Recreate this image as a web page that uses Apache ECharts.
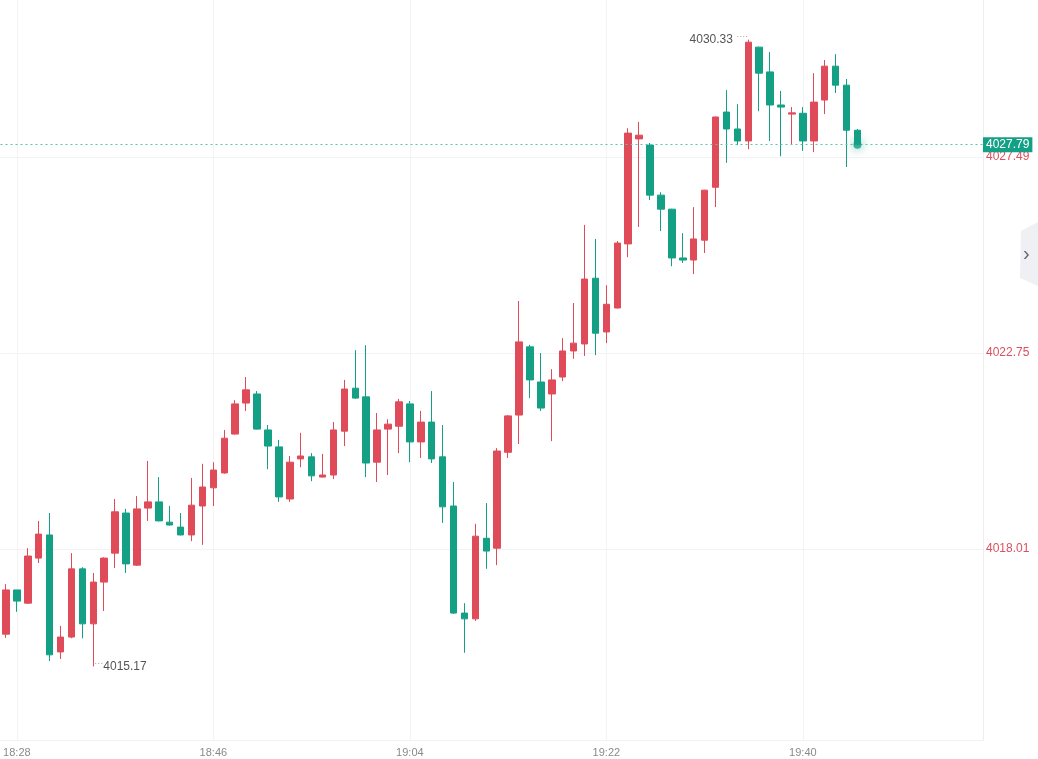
<!DOCTYPE html>
<html>
<head>
<meta charset="utf-8">
<script src="https://cdn.jsdelivr.net/npm/echarts@6/dist/echarts.min.js"></script>
<style>
  html, body { margin: 0; padding: 0; background: #fff; }
  #EChart { width: 1038px; height: 759px; }
</style>
</head>
<body>
<div id="EChart"></div>
<script>
// minute bars, 18:27 -> 19:45, axis runs on to 19:56
var times = [
  '18:27','18:28','18:29','18:30','18:31','18:32','18:33','18:34','18:35','18:36',
  '18:37','18:38','18:39','18:40','18:41','18:42','18:43','18:44','18:45','18:46',
  '18:47','18:48','18:49','18:50','18:51','18:52','18:53','18:54','18:55','18:56',
  '18:57','18:58','18:59','19:00','19:01','19:02','19:03','19:04','19:05','19:06',
  '19:07','19:08','19:09','19:10','19:11','19:12','19:13','19:14','19:15','19:16',
  '19:17','19:18','19:19','19:20','19:21','19:22','19:23','19:24','19:25','19:26',
  '19:27','19:28','19:29','19:30','19:31','19:32','19:33','19:34','19:35','19:36',
  '19:37','19:38','19:39','19:40','19:41','19:42','19:43','19:44','19:45','19:46',
  '19:47','19:48','19:49','19:50','19:51','19:52','19:53','19:54','19:55','19:56'
];

var opens = [
  4015.95,4017.02,4016.70,4017.79,4018.35,4015.52,4015.88,4017.53,4016.20,4017.21,
  4017.91,4018.88,4017.62,4019.00,4019.15,4018.66,4018.54,4018.35,4019.05,4019.49,
  4019.85,4020.79,4021.54,4021.76,4020.89,4020.48,4019.22,4020.19,4020.24,4019.75,
  4019.80,4020.86,4021.90,4021.69,4020.11,4020.91,4020.98,4021.52,4020.60,4021.08,
  4020.24,4019.05,4016.46,4016.32,4018.27,4018.03,4020.35,4021.25,4022.90,4022.05,
  4021.76,4022.17,4022.80,4022.97,4024.56,4023.26,4023.84,4025.39,4027.93,4027.78,
  4026.57,4026.23,4025.05,4025.00,4025.48,4026.76,4028.58,4028.17,4027.88,4030.15,
  4029.55,4028.75,4028.53,4028.55,4027.88,4028.87,4029.69,4029.23,4028.14
];
var closes = [
  4017.02,4016.75,4017.84,4018.37,4015.45,4015.88,4017.53,4016.20,4017.21,4017.79,
  4018.91,4017.65,4018.98,4019.15,4018.69,4018.59,4018.35,4019.07,4019.51,4019.92,
  4020.69,4021.52,4021.86,4020.91,4020.50,4019.27,4020.11,4020.26,4019.78,4019.80,
  4020.89,4021.88,4021.66,4020.09,4020.89,4021.03,4021.57,4020.60,4021.08,4020.19,
  4019.03,4016.46,4016.32,4018.32,4017.96,4020.38,4021.23,4023.02,4022.10,4021.42,
  4022.10,4022.80,4022.99,4024.54,4023.23,4023.93,4025.41,4028.07,4028.02,4026.57,
  4026.23,4025.05,4025.00,4025.51,4026.69,4028.46,4028.17,4027.88,4030.27,4029.52,
  4028.75,4028.70,4028.56,4027.88,4028.82,4029.69,4029.23,4028.14,4027.79
];
var lows = [
  4015.86,4016.49,4016.68,4017.67,4015.30,4015.35,4015.85,4015.85,4015.17,4016.51,
  4017.55,4017.43,4017.60,4018.69,4018.68,4018.58,4018.34,4018.20,4018.11,4019.05,
  4019.83,4020.78,4021.35,4020.90,4019.94,4019.15,4019.15,4019.99,4019.65,4019.74,
  4019.70,4020.50,4021.64,4019.75,4019.63,4019.80,4020.33,4020.11,4020.21,4020.09,
  4018.64,4016.44,4015.50,4016.27,4017.53,4017.62,4020.21,4020.55,4021.66,4021.35,
  4020.62,4022.07,4022.61,4022.68,4022.70,4022.99,4023.83,4025.07,4025.80,4026.45,
  4025.70,4024.85,4024.93,4024.66,4025.17,4026.28,4027.35,4027.78,4027.68,4028.60,
  4027.88,4027.51,4027.78,4027.64,4027.61,4028.53,4029.04,4027.25,4027.77
];
var highs = [
  4017.16,4017.02,4018.03,4018.69,4018.88,4016.15,4017.91,4017.57,4017.43,4017.81,
  4019.22,4018.98,4019.29,4020.14,4019.75,4019.05,4018.88,4019.73,4020.07,4020.11,
  4020.89,4021.61,4022.17,4021.83,4021.01,4020.65,4020.26,4020.82,4020.33,4020.31,
  4021.08,4022.10,4022.82,4022.94,4021.30,4021.15,4021.64,4021.59,4021.35,4021.83,
  4021.01,4019.63,4016.70,4018.62,4019.12,4020.45,4021.25,4024.01,4022.95,4022.75,
  4022.36,4023.11,4023.96,4025.85,4025.51,4024.39,4025.46,4028.19,4028.34,4027.83,
  4026.64,4026.24,4025.65,4026.28,4026.70,4028.47,4029.11,4028.77,4030.33,4030.16,
  4030.03,4029.09,4028.70,4028.70,4029.52,4029.84,4029.98,4029.38,4028.17
];

var priceTicks = [4018.01, 4022.75, 4027.49];
var lastPrice = 4027.79;

var UP = '#e04b5a';
var DOWN = '#14a085';

var kdata = [];
for (var i = 0; i < opens.length; i++) {
  kdata.push([opens[i], closes[i], lows[i], highs[i]]);
}
var hiVal = Math.max.apply(null, highs);
var hiIdx = highs.indexOf(hiVal);
var loVal = Math.min.apply(null, lows);
var loIdx = lows.indexOf(loVal);
var lastIdx = closes.length - 1;

function showTime(idx) { return (idx - 1) % 18 === 0; }

var config = {
  animation: false,
  backgroundColor: '#ffffff',
  grid: { left: 0.5, right: 55, top: 0, bottom: 19 },
  xAxis: {
    type: 'category',
    data: times,
    boundaryGap: true,
    axisLine: { show: true, lineStyle: { color: '#f2f2f2' } },
    axisTick: { show: false, alignWithLabel: true },
    axisLabel: {
      interval: showTime,
      color: '#8a8a8a',
      fontSize: 11,
      margin: 7,
      fontFamily: 'Liberation Sans Narrow, Arial Narrow, sans-serif'
    },
    splitLine: { show: true, interval: showTime, alignWithLabel: true, lineStyle: { color: '#f3f3f3' } }
  },
  yAxis: {
    type: 'value',
    position: 'right',
    scale: true,
    min: 4013.39,
    max: 4031.29,
    axisLine: { show: true, lineStyle: { color: '#eeeeee' } },
    axisTick: { show: false, customValues: priceTicks },
    axisLabel: {
      customValues: priceTicks,
      color: '#d9505f',
      fontSize: 12,
      margin: 3,
      padding: [4, 0, 0, 0],
      formatter: function (v) { return v.toFixed(2); }
    },
    splitLine: { show: true, lineStyle: { color: '#f3f3f3' } }
  },
  series: [
    {
      name: 'k',
      type: 'candlestick',
      data: kdata,
      barWidth: 7,
      itemStyle: {
        color: UP,
        color0: DOWN,
        borderColor: UP,
        borderColor0: DOWN,
        borderWidth: 1
      },
      markPoint: {
        symbol: 'circle',
        symbolSize: 0,
        silent: true,
        data: [
          {
            coord: [hiIdx, hiVal],
            value: hiVal,
            label: {
              show: true,
              position: 'left',
              distance: 0,
              formatter: function (p) { return p.value.toFixed(2) + ' {d|····}'; },
              color: '#555',
              fontSize: 12,
              rich: { d: { color: '#999', fontSize: 9, verticalAlign: 'top', padding: [0, 0, 6, 0] } }
            }
          },
          {
            coord: [loIdx, loVal],
            value: loVal,
            label: {
              show: true,
              position: 'right',
              distance: 1,
              formatter: function (p) { return '{d|···}' + p.value.toFixed(2); },
              color: '#555',
              fontSize: 12,
              rich: { d: { color: '#999', fontSize: 9, verticalAlign: 'top', padding: [0, 0, 6, 0] } }
            }
          }
        ]
      },
      markLine: {
        symbol: ['none', 'none'],
        silent: true,
        animation: false,
        lineStyle: { color: '#5cc4b0', type: [2, 3], width: 1 },
        label: {
          show: true,
          position: 'end',
          distance: 0,
          formatter: function () { return lastPrice.toFixed(2); },
          color: '#fff',
          backgroundColor: DOWN,
          padding: [2, 3, 1, 3],
          fontSize: 12
        },
        data: [{ yAxis: lastPrice }]
      }
    },
    {
      name: 'last',
      type: 'scatter',
      data: [[lastIdx, lastPrice]],
      symbolSize: 8,
      silent: true,
      itemStyle: { color: DOWN, shadowBlur: 10, shadowColor: 'rgba(20,160,133,0.9)' },
      z: 5
    }
  ],
  graphic: [
    {
      type: 'polygon',
      shape: { points: [[1038, 222], [1021, 231], [1020, 278], [1038, 286]] },
      style: { fill: '#eef0f4' }
    },
    {
      type: 'text',
      left: 1023,
      top: 244,
      style: { text: '›', fill: '#666', font: '20px sans-serif' }
    }
  ]
};

var EChart = echarts.init(document.getElementById('EChart'));
EChart.setOption(config);
</script>
</body>
</html>
